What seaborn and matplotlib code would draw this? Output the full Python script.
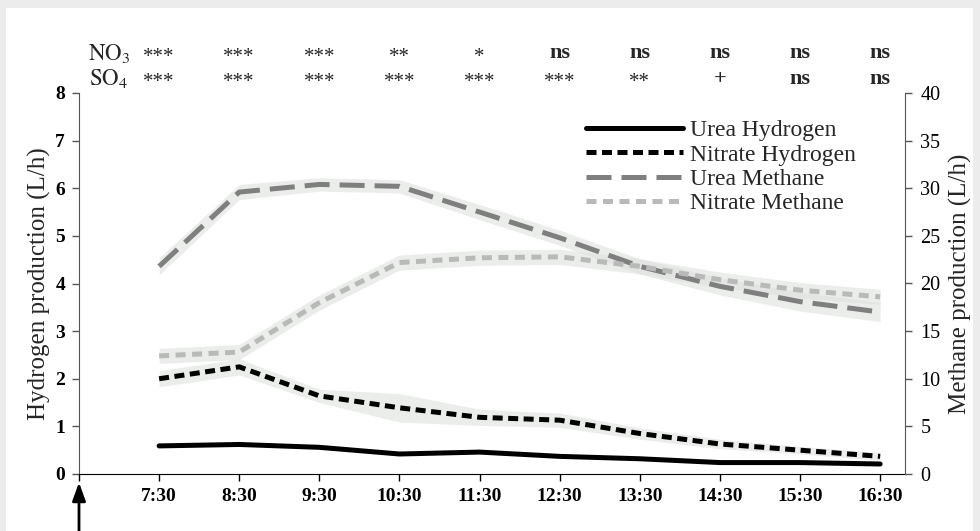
import numpy as np
import pandas as pd
import matplotlib.pyplot as plt
import matplotlib.patches as mpatches
import seaborn as sns

# === DATA ===
times = ['7:30', '8:30', '9:30', '10:30', '11:30', '12:30', '13:30', '14:30', '15:30', '16:30']
pos = list(range(1, 11))

urea_h2 = [0.59, 0.62, 0.56, 0.42, 0.46, 0.37, 0.32, 0.24, 0.24, 0.21]
urea_h2_err = [0.03, 0.03, 0.03, 0.03, 0.03, 0.03, 0.03, 0.03, 0.03, 0.03]
nitrate_h2 = [2.0, 2.25, 1.64, 1.39, 1.19, 1.13, 0.85, 0.63, 0.5, 0.37]
nitrate_h2_err = [0.17, 0.17, 0.14, 0.3, 0.17, 0.15, 0.12, 0.1, 0.08, 0.08]

urea_ch4 = [21.8, 29.6, 30.4, 30.2, 27.5, 24.8, 21.8, 19.7, 18.1, 17.0]
urea_ch4_err = [0.9, 0.8, 0.7, 0.7, 0.8, 0.8, 0.8, 0.9, 1.0, 1.0]
nitrate_ch4 = [12.4, 12.8, 18.0, 22.2, 22.7, 22.8, 21.8, 20.4, 19.3, 18.6]
nitrate_ch4_err = [0.8, 0.8, 0.8, 0.8, 0.8, 0.8, 0.8, 0.8, 0.8, 0.8]

no3_sig = ['***', '***', '***', '**', '*', 'ns', 'ns', 'ns', 'ns', 'ns']
so4_sig = ['***', '***', '***', '***', '***', '***', '**', '+', 'ns', 'ns']

h2 = pd.DataFrame({'pos': pos, 'Urea Hydrogen': urea_h2, 'Nitrate Hydrogen': nitrate_h2})
ch4 = pd.DataFrame({'pos': pos, 'Urea Methane': urea_ch4, 'Nitrate Methane': nitrate_ch4})

# === STYLE ===
sns.set_style('ticks')
plt.rcParams['font.family'] = ['Liberation Serif', 'DejaVu Serif']
plt.rcParams['mathtext.fontset'] = 'stix'

band = '#dfe1df'
fig = plt.figure(figsize=(9.8, 5.31), dpi=100, facecolor='#ebeceb')
fig.patches.append(mpatches.Rectangle((6 / 980, 0), 967 / 980, 523 / 531, transform=fig.transFigure,
                                      facecolor='white', edgecolor='none', zorder=-10))
ax = fig.add_axes([79 / 980, 1 - 474 / 531, (905 - 79) / 980, (474 - 93) / 531])
ax.set_facecolor('none')
ax2 = ax.twinx()
ax2.set_facecolor('none')

# bands
ax.fill_between(pos, np.array(urea_h2) - urea_h2_err, np.array(urea_h2) + urea_h2_err,
                color=band, alpha=0.6, lw=0)
ax.fill_between(pos, np.array(nitrate_h2) - nitrate_h2_err, np.array(nitrate_h2) + nitrate_h2_err,
                color=band, alpha=0.6, lw=0)
ax2.fill_between(pos, np.array(urea_ch4) - urea_ch4_err, np.array(urea_ch4) + urea_ch4_err,
                 color=band, alpha=0.6, lw=0)
ax2.fill_between(pos, np.array(nitrate_ch4) - nitrate_ch4_err, np.array(nitrate_ch4) + nitrate_ch4_err,
                 color=band, alpha=0.6, lw=0)

# lines
sns.lineplot(data=h2, x='pos', y='Urea Hydrogen', ax=ax, color='black', lw=3.6,
             label='Urea Hydrogen', legend=False)
sns.lineplot(data=h2, x='pos', y='Nitrate Hydrogen', ax=ax, color='black', lw=3.6,
             linestyle=(0, (2.0, 1.1)), label='Nitrate Hydrogen', legend=False)
sns.lineplot(data=ch4, x='pos', y='Urea Methane', ax=ax2, color='#7f7f7f', lw=3.6,
             linestyle=(0, (5.0, 2.0)), label='Urea Methane', legend=False)
sns.lineplot(data=ch4, x='pos', y='Nitrate Methane', ax=ax2, color='#b9b9b9', lw=3.6,
             linestyle=(0, (2.0, 1.3)), label='Nitrate Methane', legend=False)

# axes
ax.set_xlim(0, 10.31)
ax.set_ylim(0, 8)
ax2.set_ylim(0, 40)
ax.set_xticks(range(0, 11))
ax.set_xticklabels([''] + times, fontsize=14, fontweight='bold')
ax.set_yticks(range(0, 9))
ax.set_yticklabels([str(i) for i in range(9)], fontsize=14, fontweight='bold')
ax2.set_yticks(range(0, 41, 5))
ax2.set_yticklabels([str(i) for i in range(0, 41, 5)], fontsize=14.5)
ax.set_xlabel('')
ax.set_ylabel('Hydrogen production (L/h)', fontsize=18, labelpad=3)
ax2.set_ylabel('Methane production (L/h)', fontsize=18, labelpad=6)

for a in (ax, ax2):
    a.spines['top'].set_visible(False)
ax.spines['left'].set_color('#555555')
ax.spines['right'].set_visible(False)
ax2.spines['left'].set_visible(False)
ax2.spines['bottom'].set_visible(False)
ax2.spines['right'].set_color('#555555')
ax.spines['bottom'].set_color('black')
ax.tick_params(axis='x', length=5, width=1, pad=5, colors='black')
ax.tick_params(axis='y', length=5, width=1, colors='#555555', labelcolor='black', pad=5)
ax2.tick_params(axis='y', length=5, width=1, colors='#555555', labelcolor='black', pad=6)

# legend
handles = ax.get_lines() + ax2.get_lines()
ax2.legend(handles=handles, labels=[h.get_label() for h in handles], loc='upper left',
           bbox_to_anchor=(0.614, 0.93), frameon=False, fontsize=17, handlelength=4.1,
           handletextpad=0.3, labelspacing=0.12, borderaxespad=0, borderpad=0)

# significance rows
tr = ax.get_xaxis_transform()
ax.text(0.37, 1.104, r'$\mathrm{NO}_3$', transform=tr, ha='center', va='center', fontsize=16.5)
ax.text(0.37, 1.038, r'$\mathrm{SO}_4$', transform=tr, ha='center', va='center', fontsize=16.5)
for p, a, b in zip(pos, no3_sig, so4_sig):
    for lab, yy in ((a, 1.104), (b, 1.038)):
        bold = lab in ('ns', '+')
        ax.text(p, yy if bold else yy - 0.01, lab, transform=tr, ha='center', va='center',
                fontsize=16 if bold else 15, fontweight='bold' if bold else 'normal')

# start arrow
ax.annotate('', xy=(0, -0.015), xytext=(0, -0.16), xycoords=tr, textcoords=tr,
            arrowprops=dict(arrowstyle='-|>,head_width=0.4,head_length=1.1', color='black', lw=2),
            annotation_clip=False)

plt.savefig('out.png', dpi=100, facecolor=fig.get_facecolor())
